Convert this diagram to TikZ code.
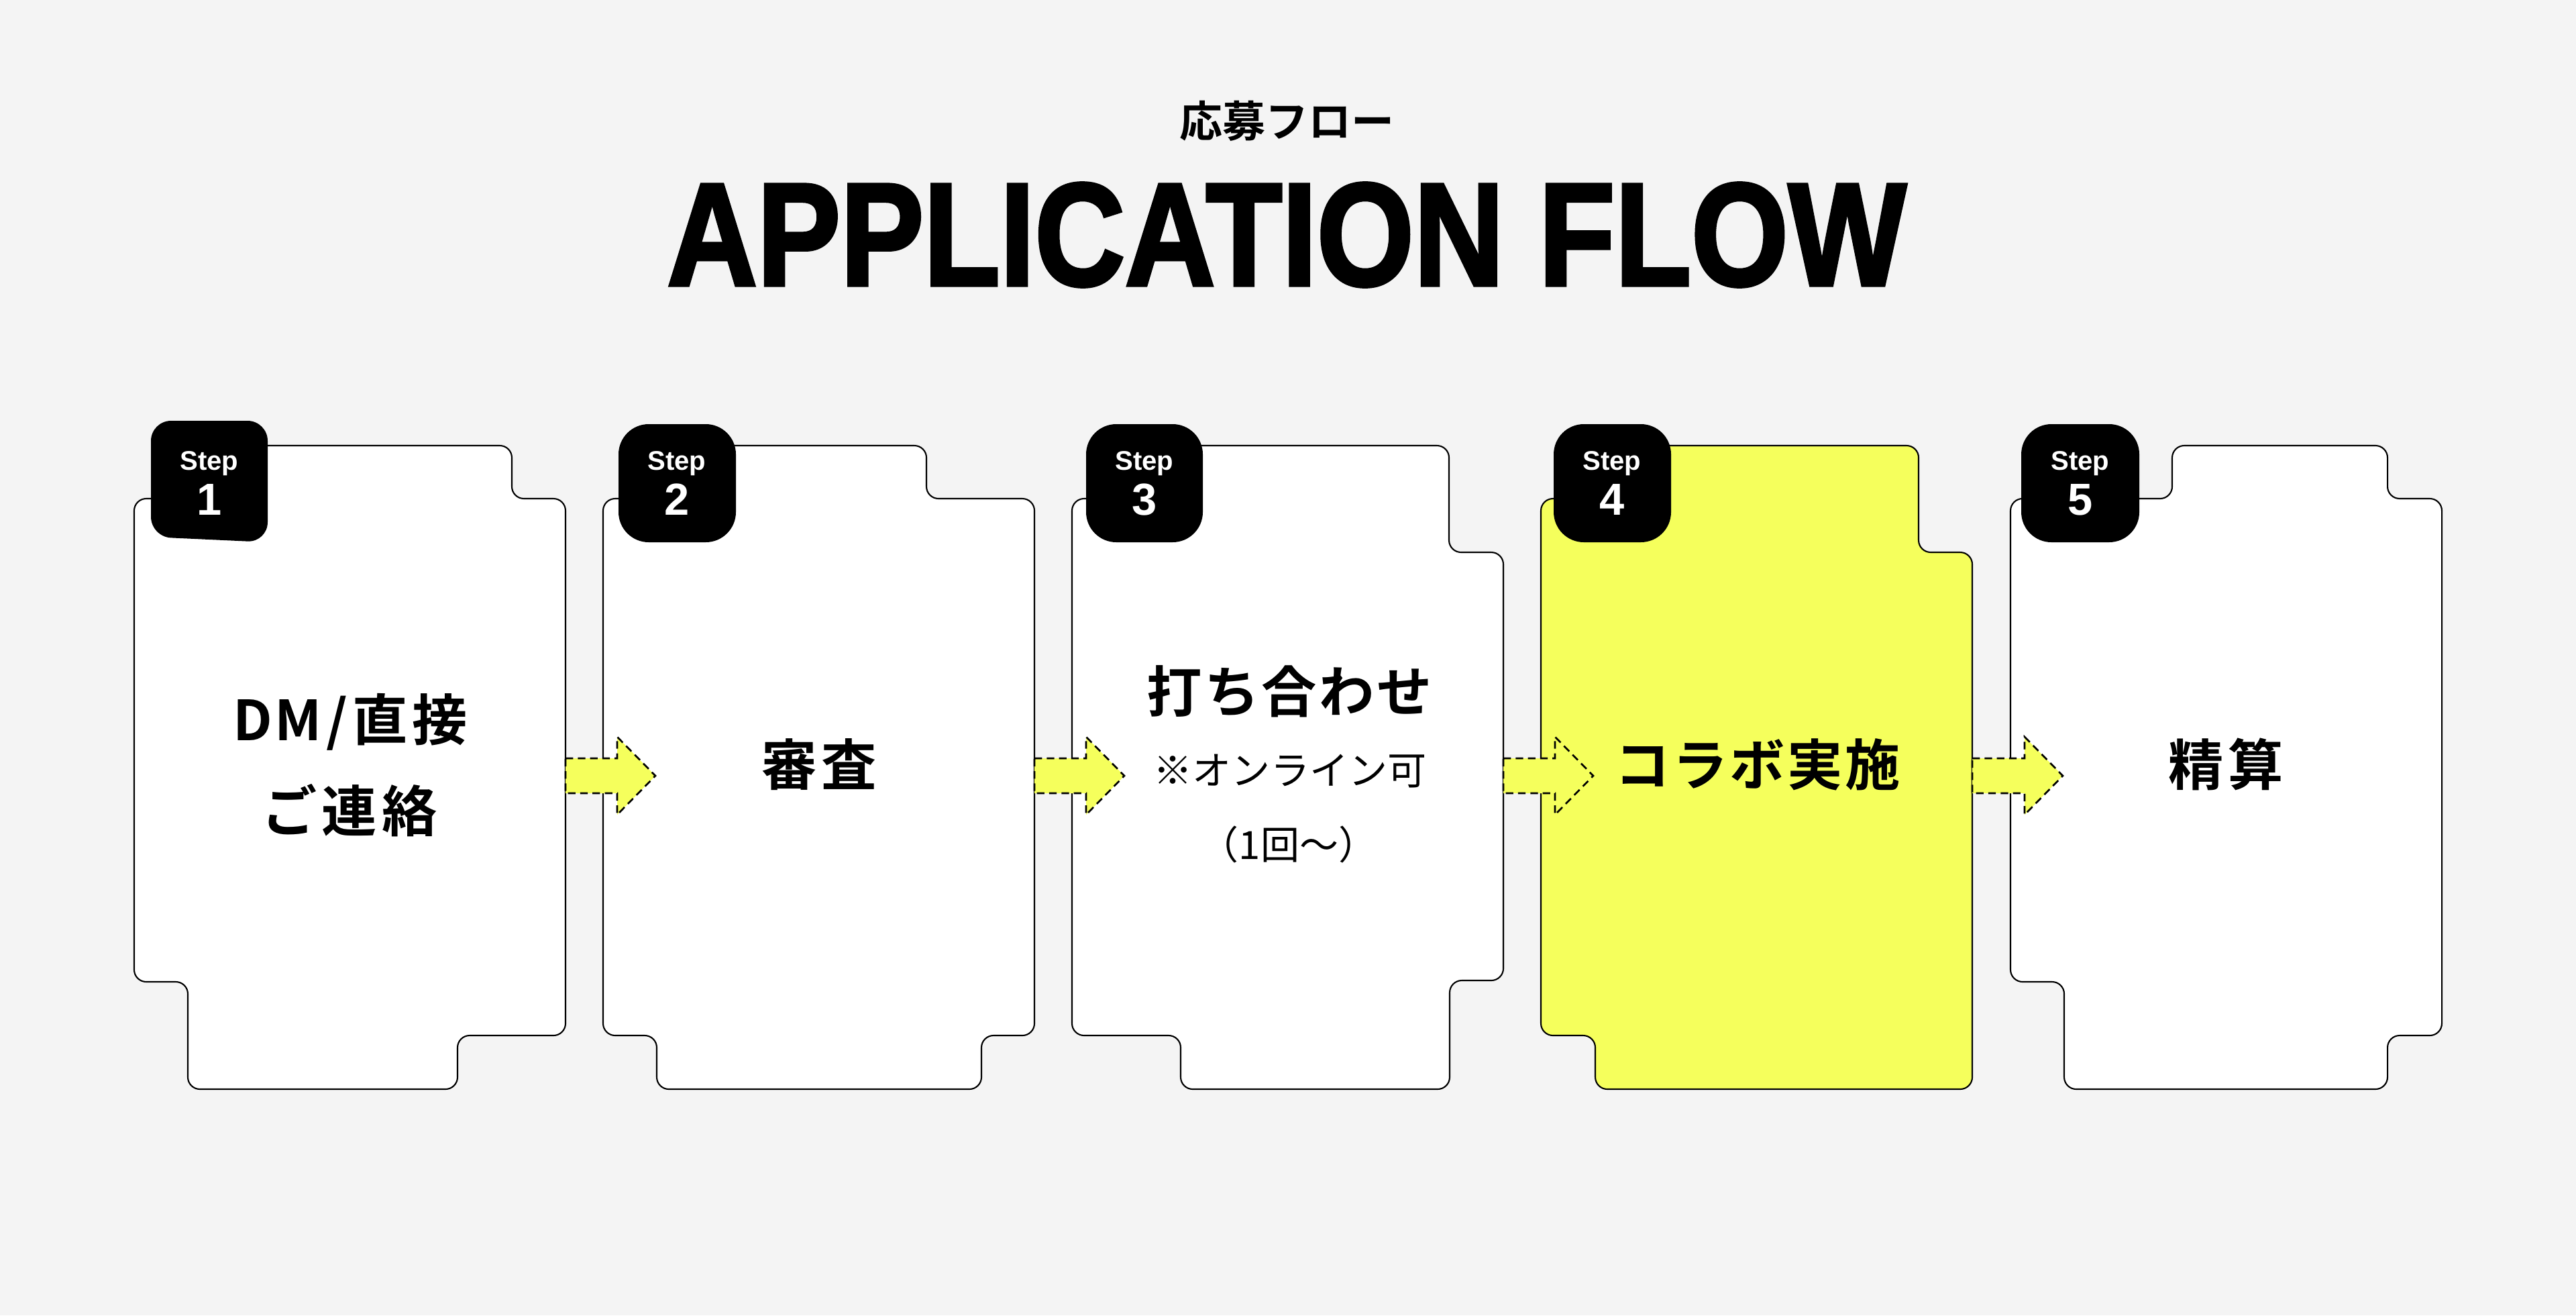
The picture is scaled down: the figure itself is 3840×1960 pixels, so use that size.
\documentclass[tikz,border=0pt]{standalone}
\usepackage{fontspec}
\setmainfont{Liberation Sans}
\newfontfamily\jp{Noto Sans CJK JP}[BoldFont={Noto Sans CJK JP Bold}]
\newfontfamily\heavy{Liberation Sans Bold}[FakeBold=2.5]
\usetikzlibrary{calc}
\definecolor{bg}{HTML}{F4F4F4}
\definecolor{hl}{HTML}{F5FF5C}
\tikzset{
  card/.style={draw=black, line width=0.6pt, fill=white, rounded corners=0.18cm},
  badge/.style={fill=black, rounded corners=0.45cm},
  flowarrow/.style={draw=black, line width=0.75pt, dash pattern=on 3.2pt off 2pt, fill=hl},
  steplbl/.style={text=white, anchor=base, inner sep=0, font=\bfseries\fontsize{11.4}{12}\selectfont},
  stepnum/.style={text=white, anchor=base, inner sep=0, font=\bfseries\fontsize{19}{20}\selectfont},
  maintxt/.style={inner sep=0, font=\jp\bfseries\fontsize{23.4}{26}\selectfont},
  subtxt/.style={inner sep=0, font=\jp\fontsize{16.5}{18}\selectfont},
}
\begin{document}
\begin{tikzpicture}[x=0.01cm, y=-0.01cm]
\useasboundingbox (0,0) rectangle (3840,1960);
\fill[bg] (0,0) rectangle (3840,1960);

% titles
\node[inner sep=0, font=\jp\bfseries\fontsize{18.2}{20}\selectfont] (sub) at (1918,180) {応募フロー};
\node[inner sep=0] (title) at (1918,350) {\resizebox{18.45cm}{1.52cm}{\heavy APPLICATION FLOW}};

% cards
\draw[card] (200,743) -- (360,743) -- (360,664) -- (763,664) -- (763,743) -- (843,743) -- (843,1543) -- (682,1543) -- (682,1623) -- (280,1623) -- (280,1463) -- (200,1463) -- cycle;
\draw[card] (899,743) -- (1000,743) -- (1000,664) -- (1381,664) -- (1381,743) -- (1542,743) -- (1542,1543) -- (1463,1543) -- (1463,1623) -- (979,1623) -- (979,1543) -- (899,1543) -- cycle;
\draw[card] (1598,743) -- (1700,743) -- (1700,664) -- (2160,664) -- (2160,823) -- (2241,823) -- (2241,1461) -- (2161,1461) -- (2161,1623) -- (1760,1623) -- (1760,1543) -- (1598,1543) -- cycle;
\draw[card, fill=hl] (2297,743) -- (2400,743) -- (2400,664) -- (2860,664) -- (2860,823) -- (2940,823) -- (2940,1623) -- (2378,1623) -- (2378,1543) -- (2297,1543) -- cycle;
\draw[card] (2997,743) -- (3238,743) -- (3238,664) -- (3559,664) -- (3559,743) -- (3640,743) -- (3640,1543) -- (3559,1543) -- (3559,1623) -- (3077,1623) -- (3077,1463) -- (2997,1463) -- cycle;

% connection points
\coordinate (c1e) at (843,1156);
\coordinate (c2w) at (899,1156);
\coordinate (c2e) at (1542,1156);
\coordinate (c3w) at (1598,1156);
\coordinate (c3e) at (2241,1156);
\coordinate (c4w) at (2297,1156);
\coordinate (c4e) at (2940,1156);
\coordinate (c5w) at (2997,1156);

% arrows
\foreach \a/\b in {c1e/c2w, c2e/c3w, c3e/c4w, c4e/c5w}{
  \draw[flowarrow] ($(\a)+(0,-26)$) -- ($(\b)+(21,-26)$) -- ($(\b)+(21,-58)$) -- ($(\b)+(78,0)$) -- ($(\b)+(21,58)$) -- ($(\b)+(21,26)$) -- ($(\a)+(0,26)$) -- cycle;
}

% badges
\fill[rounded corners=0.3cm] (225,700) -- (225,627) -- (399,627) -- (399,808) -- (225,800) -- cycle;
\fill[badge] (922,632) rectangle (1097,808);
\fill[badge] (1619,632) rectangle (1793,808);
\fill[badge] (2316,632) rectangle (2491,808);
\fill[badge] (3013,632) rectangle (3189,808);

\node[steplbl] (s1) at (312,700) {Step};
\node[stepnum] (n1) at (312,767) {1};
\node[steplbl] (s2) at (1009,700) {Step};
\node[stepnum] (n2) at (1009,767) {2};
\node[steplbl] (s3) at (1706,700) {Step};
\node[stepnum] (n3) at (1706,767) {3};
\node[steplbl] (s4) at (2403,700) {Step};
\node[stepnum] (n4) at (2403,767) {4};
\node[steplbl] (s5) at (3101,700) {Step};
\node[stepnum] (n5) at (3101,767) {5};

% card texts
\node[maintxt] (t1a) at (522,1076) {D\kern1pt M\kern2pt/\kern2pt 直\kern2pt 接};
\node[maintxt] (t1b) at (521,1208) {ご\kern2pt 連\kern2pt 絡};
\node[maintxt] (t2) at (1221,1139) {審\kern2pt 査};
\node[maintxt] (t3a) at (1922,1030) {打\kern1pt ち\kern1pt 合\kern1pt わ\kern1pt せ};
\node[subtxt] (t3b) at (1923,1149) {※オンライン可};
\node[subtxt] (t3c) at (1921,1258) {（1回〜）};
\node[maintxt] (t4) at (2620,1139) {コ\kern1pt ラ\kern1pt ボ\kern1pt 実\kern1pt 施};
\node[maintxt] (t5) at (3318,1139) {精\kern2pt 算};
\end{tikzpicture}
\end{document}
